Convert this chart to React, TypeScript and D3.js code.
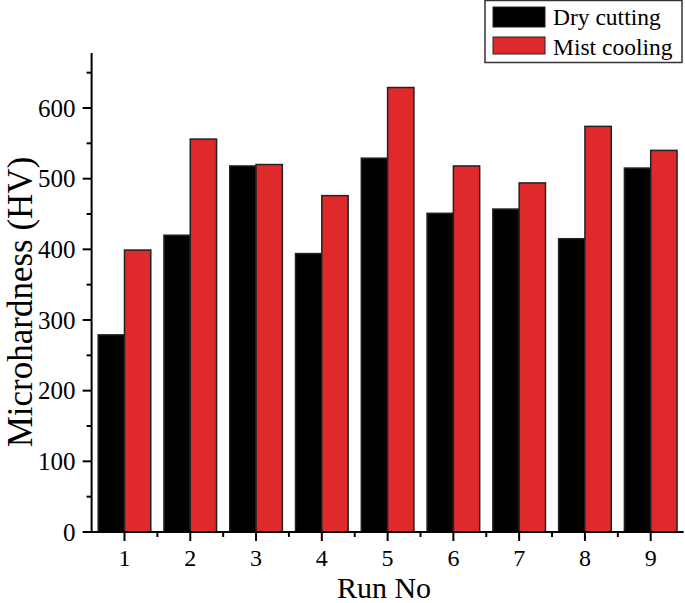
import React from "react";
import * as d3 from "d3";

const runs = ["1", "2", "3", "4", "5", "6", "7", "8", "9"];
const dryCutting = [279, 420, 518, 394, 529, 451, 457, 415, 515];
const mistCooling = [399, 556, 520, 476, 629, 518, 494, 574, 540];
const seriesNames = ["Dry cutting", "Mist cooling"];
const seriesColors = ["#000000", "#e0292b"];
const yTicks = [0, 100, 200, 300, 400, 500, 600];

export default function App() {
  const W = 685, H = 603;
  const x0 = 91.6, x1 = 683.6;
  const y0 = 532, yTop = 53;
  const yScale = d3.scaleLinear().domain([0, 600]).range([y0, 108]);
  const xScale = d3.scaleLinear().domain([0.5, 9.5]).range([x0, x1]);
  const band = xScale(2) - xScale(1);
  const barW = band * 0.4;
  const minorY = d3.range(50, 700, 100).filter((v) => yScale(v) >= yTop);
  const minorX = d3.range(1.5, 9.5, 1);
  const font = "'Liberation Serif', 'Times New Roman', serif";
  const data = [dryCutting, mistCooling];

  return (
    <svg width={W} height={H} style={{ position: "absolute", left: 0, top: 0, background: "#fff" }} fontFamily={font}>
      {data.map((vals, si) =>
        vals.map((v, i) => {
          const cx = xScale(i + 1);
          const bx = si === 0 ? cx - barW : cx;
          return (
            <rect key={`${si}-${i}`} x={bx} y={yScale(v)} width={barW} height={y0 - yScale(v)}
              fill={seriesColors[si]} stroke="#222" strokeWidth={1.5} />
          );
        })
      )}
      {/* axes */}
      <line x1={x0} y1={yTop} x2={x0} y2={y0 + 1} stroke="#000" strokeWidth={2} />
      <line x1={x0 - 1} y1={y0} x2={x1} y2={y0} stroke="#000" strokeWidth={2} />
      {yTicks.map((t) => (
        <g key={`yt${t}`}>
          <line x1={x0 - 9} x2={x0} y1={yScale(t)} y2={yScale(t)} stroke="#000" strokeWidth={2} />
          <text x={x0 - 16} y={yScale(t)} dy="0.35em" textAnchor="end" fontSize={25}>{t}</text>
        </g>
      ))}
      {minorY.map((t) => (
        <line key={`ym${t}`} x1={x0 - 5} x2={x0} y1={yScale(t)} y2={yScale(t)} stroke="#000" strokeWidth={2} />
      ))}
      {runs.map((r, i) => (
        <g key={`xt${r}`}>
          <line x1={xScale(i + 1)} x2={xScale(i + 1)} y1={y0} y2={y0 + 9} stroke="#000" strokeWidth={2} />
          <text x={xScale(i + 1)} y={566} textAnchor="middle" fontSize={24}>{r}</text>
        </g>
      ))}
      {minorX.map((t) => (
        <line key={`xm${t}`} x1={xScale(t)} x2={xScale(t)} y1={y0} y2={y0 + 5} stroke="#000" strokeWidth={2} />
      ))}
      <text x={384} y={598} textAnchor="middle" fontSize={30}>Run No</text>
      <text transform={`translate(32, 302) rotate(-90)`} textAnchor="middle" fontSize={35}>Microhardness (HV)</text>
      {/* legend */}
      <rect x={485} y={0.5} width={197} height={62} fill="#fff" stroke="#333" strokeWidth={1.5} />
      {seriesNames.map((n, i) => (
        <g key={n}>
          <rect x={493} y={i === 0 ? 7 : 37} width={52} height={i === 0 ? 20 : 17} fill={seriesColors[i]} stroke="#222" strokeWidth={1} />
          <text x={553} y={i === 0 ? 25 : 55} fontSize={23.5}>{n}</text>
        </g>
      ))}
    </svg>
  );
}
